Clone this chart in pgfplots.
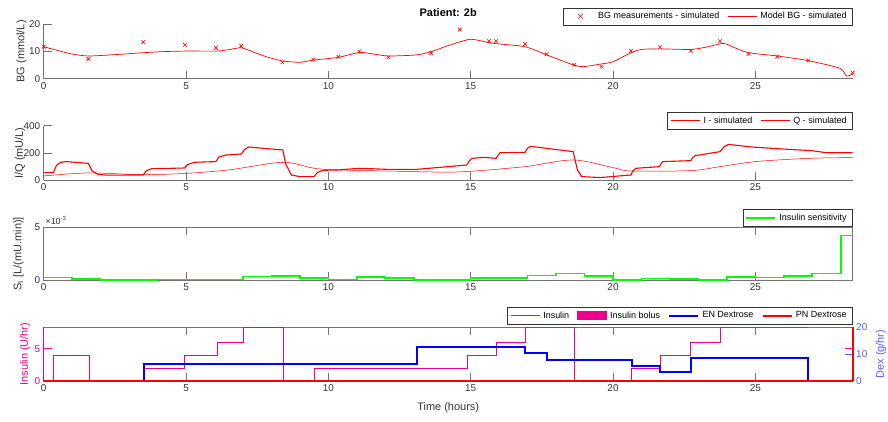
\documentclass[border=0pt]{standalone}
\usepackage{pgfplots}
\usepackage{pgfplotstable}
\pgfplotsset{compat=1.18}
\usepackage{fontspec}
\setmainfont{Liberation Sans}

\definecolor{axgray}{gray}{0.45}
\definecolor{txtgray}{gray}{0.2}
\definecolor{dexblue}{RGB}{90,90,255}
\definecolor{sigreen}{RGB}{0,255,0}

\pgfplotstableread{
t bg
0.00 11.7
1.57 7.2
3.50 13.4
4.96 12.4
6.05 11.3
6.94 12.0
8.39 6.0
9.47 7.0
10.35 8.0
11.09 10.0
12.11 7.8
13.61 9.3
14.62 18.0
15.64 13.7
15.89 13.7
16.91 12.7
17.67 8.9
18.64 5.1
19.60 4.4
20.63 10.2
21.65 11.5
22.73 10.2
23.76 13.7
24.76 9.0
25.77 8.0
26.86 6.7
28.42 2.2
}\bgmeas

\pgfplotstableread{
t bg
0.00 11.7
0.50 10.3
1.00 9.0
1.57 8.3
2.50 8.8
3.50 9.5
4.20 9.9
5.00 10.1
6.05 10.1
6.50 10.6
6.94 11.3
7.40 9.6
7.83 8.0
8.39 6.5
9.00 6.0
9.47 6.8
10.35 7.8
11.09 9.6
11.60 9.0
12.11 8.3
13.10 8.7
13.61 9.9
14.27 12.3
14.99 14.4
15.64 13.2
15.89 12.8
16.91 11.7
17.67 8.7
18.20 6.6
18.64 4.9
18.96 4.4
19.60 5.4
20.00 6.2
20.63 9.5
21.00 10.7
21.65 10.9
22.73 10.7
23.30 11.6
23.88 12.9
24.30 11.2
24.76 9.5
25.77 8.3
26.86 6.6
27.97 3.8
28.20 1.0
28.42 1.7
}\bgmodel

\pgfplotstableread{
t I
0.00 56
0.34 56
0.45 110
0.60 132
0.80 137
1.57 124
1.70 70
1.90 44
2.20 38
3.50 39
3.60 70
3.80 85
4.95 90
5.05 115
5.30 132
6.05 137
6.15 170
6.40 185
6.95 193
7.05 225
7.20 244
8.40 222
8.50 120
8.70 39
9.00 27
9.50 27
9.60 55
9.80 73
10.35 76
11.10 88
12.10 80
13.10 80
14.30 102
14.86 112
14.95 140
15.05 161
15.45 168
15.89 161
16.03 202
16.91 205
17.00 235
17.10 249
18.60 210
18.70 120
18.75 76
18.90 27
19.55 20
20.63 39
20.70 70
20.81 88
21.63 100
21.70 125
21.75 137
22.73 144
22.80 165
22.88 180
23.76 210
23.90 245
24.05 263
24.87 244
25.98 229
26.98 217
27.50 202
28.42 202
}\Idata

\pgfplotstableread{
t Q
0.00 32
1.57 54
3.50 41
5.00 51
6.50 76
8.40 132
9.50 88
10.35 76
12.10 68
14.00 60
15.00 66
16.90 100
18.60 149
20.00 93
20.63 68
22.73 71
23.76 100
25.00 137
26.90 161
28.42 166
}\Qdata

\pgfplotstableread{
t si
0 0.28
1 0.13
2 0.02
4 0.06
7 0.35
8 0.38
9 0.19
10 0.09
11 0.31
12 0.22
13 0.03
15 0.22
16 0.20
17 0.44
18 0.66
19 0.41
20 0.03
21 0.16
22 0.14
23 0.03
24 0.31
25 0.28
26 0.38
27 0.66
28 4.21
28.42 4.21
}\SIdata

\pgfplotstableread{
t u
0.00 0
0.35 4
1.60 0
3.50 2
4.95 4
6.10 6
7.00 8.3
8.40 0
9.50 2
14.88 4
15.89 6
16.92 8.3
18.63 0
20.65 2
21.65 4
22.73 6
23.76 8.3
26.86 8.3
}\Insdata

\pgfplotstableread{
t d
0.00 0
3.53 6.2
13.12 12.5
16.92 10.3
17.69 7.9
20.65 5.7
21.65 3.5
22.73 8.7
26.86 0
28.42 0
}\ENdata

\pgfplotstableread{
t d
0.00 0
28.42 0
}\PNdata

\pgfplotsset{
  mystyle/.style={
    scale only axis, width=809bp,
    xmin=0, xmax=28.42,
    xtick={0,5,10,15,20,25},
    tick align=inside,
    major tick length=8bp,
    axis line style={-, axgray, line width=0.6bp},
    tick style={axgray, line width=0.6bp},
    tick label style={font=\fontsize{10}{12}\selectfont, color=txtgray},
    label style={font=\fontsize{11}{13}\selectfont, color=txtgray},
    /pgf/number format/assume math mode=true,
    scaled y ticks=false,
    legend style={font=\fontsize{9}{10}\selectfont, draw=txtgray, line width=0.5bp,
      legend columns=-1, anchor=south east, at={(rel axis cs:1,1)},
      inner xsep=2.5bp, inner ysep=2bp,
      nodes={inner xsep=3.25bp, inner ysep=2.5bp},
      /tikz/every even column/.append style={column sep=5bp}},
    legend cell align=left,
    legend image code/.code={\draw[##1] (0bp,0bp) -- (29bp,0bp);},
  },
  boluslegend/.style={legend image code/.code={\fill[##1] (0bp,-4bp) rectangle (29bp,4bp);}},
}

\begin{document}
\begin{tikzpicture}
\useasboundingbox (0,0) rectangle (888bp,-422bp);

\node[font=\bfseries\fontsize{11}{13}\selectfont] at (448.2bp,-12.5bp) {Patient: 2b};

% Panel 1
\begin{axis}[mystyle, at={(43.7bp,-24bp)}, anchor=north west, height=54.7bp,
  ymin=0, ymax=20, ytick={0,10,20},
  axis x line*=bottom, axis y line*=left,
  ylabel={BG (mmol/L)},
  ylabel style={at={(axis description cs:-0.0274,0.5)}, anchor=center},
  legend style={yshift=-1bp}, clip=false]
\addlegendimage{red, line width=0.6bp, legend image code/.code={\path[draw=none] (0bp,0bp) -- (29bp,0bp); \draw[red, line width=0.6bp] (12bp,-2.5bp) -- (17bp,2.5bp) (12bp,2.5bp) -- (17bp,-2.5bp);}}
\addlegendentry{BG measurements - simulated}
\addlegendimage{red, line width=0.7bp}
\addlegendentry{Model BG - simulated}
\addplot[forget plot, only marks, mark=x, red, mark size=2.6bp, line width=0.6bp] table[x=t,y=bg] {\bgmeas};
\addplot[forget plot, red, line width=0.7bp, smooth, tension=0.4] table[x=t,y=bg] {\bgmodel};
\end{axis}

% Panel 2
\begin{axis}[mystyle, at={(43.7bp,-125.7bp)}, anchor=north west, height=54.6bp,
  ymin=0, ymax=400, ytick={0,200,400},
  axis x line*=bottom, axis y line*=left,
  ylabel={I/Q (mU/L)},
  ylabel style={at={(axis description cs:-0.0293,0.5)}, anchor=center},
  legend style={yshift=-3.6bp}, clip=false]
\addlegendimage{red, line width=1.1bp}
\addlegendentry{I - simulated}
\addlegendimage{red, line width=0.5bp}
\addlegendentry{Q - simulated}
\addplot[forget plot, red, line width=1.1bp] table[x=t,y=I] {\Idata};
\addplot[forget plot, red, line width=0.5bp, smooth, tension=0.5] table[x=t,y=Q] {\Qdata};
\end{axis}

% Panel 3
\begin{axis}[mystyle, at={(43.7bp,-227.3bp)}, anchor=north west, height=53bp,
  ymin=0, ymax=5, ytick={0,5},
  ylabel={S\textsubscript{I} [L/(mU.min)]},
  ylabel style={at={(axis description cs:-0.0311,0.5)}, anchor=center},
  legend style={yshift=0.5bp}, clip=false]
\addplot[sigreen, line width=1.6bp, const plot] table[x=t,y=si] {\SIdata};
\addlegendentry{Insulin sensitivity}
\node[anchor=base west, font=\fontsize{9}{10}\selectfont, color=txtgray, inner sep=0pt]
  at (rel axis cs:0.002,1) [yshift=3bp] {×10\textsuperscript{-3}};
\end{axis}

% Panel 4 left (insulin)
\begin{axis}[mystyle, at={(43.7bp,-327.3bp)}, anchor=north west, height=53.7bp,
  ymin=0, ymax=8.3, ytick={0,5},
  ytick style={magenta},
  yticklabel style={color=magenta},
  ylabel={Insulin (U/hr)},
  ylabel style={color=magenta, at={(axis description cs:-0.0231,0.5)}, anchor=center},
  xlabel={Time (hours)},
  xlabel style={at={(axis description cs:0.5,0)}, anchor=center, yshift=-27bp},
  after end axis/.code={\draw[magenta, line width=0.8bp] (rel axis cs:0,0) -- (rel axis cs:0,1);},
  clip=false]
\addplot[magenta, line width=0.6bp, const plot] table[x=t,y=u] {\Insdata};
\end{axis}

% Panel 4 right (dextrose)
\begin{axis}[mystyle, at={(43.7bp,-327.3bp)}, anchor=north west, height=53.7bp,
  ymin=0, ymax=20, ytick={0,10,20},
  axis y line*=right, axis x line=none,
  y axis line style={red, line width=1.6bp},
  ytick style={dexblue},
  yticklabel style={color=dexblue},
  ylabel={Dex (g/hr)},
  ylabel style={color=dexblue, at={(axis description cs:1.035,0.5)}, anchor=center},
  legend style={yshift=3bp}, clip=false]
\addlegendimage{magenta, line width=0.8bp}
\addlegendentry{Insulin}
\addlegendimage{magenta, fill=magenta, boluslegend}
\addlegendentry{Insulin bolus}
\addplot[blue, line width=2bp, const plot] table[x=t,y=d] {\ENdata};
\addlegendentry{EN Dextrose}
\addplot[red, line width=2bp] table[x=t,y=d] {\PNdata};
\addlegendentry{PN Dextrose}
\end{axis}
\end{tikzpicture}
\end{document}
